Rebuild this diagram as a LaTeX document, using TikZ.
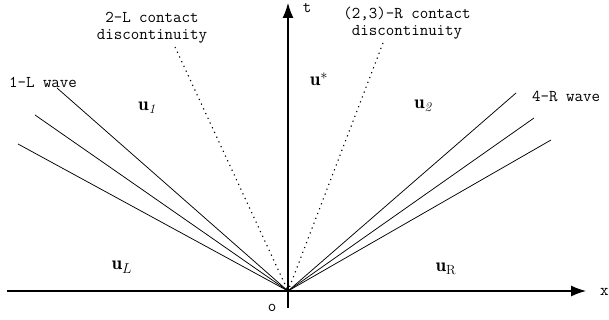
\documentclass[tikz,border=0pt]{standalone}
\usepackage{fontspec}
\usetikzlibrary{arrows.meta}
\begin{document}
\begin{tikzpicture}[x=1pt,y=-1pt,
  lbl/.style={font=\ttfamily\fontsize{16.5}{17}\selectfont, inner sep=0pt, align=center},
  mlbl/.style={font=\fontsize{19}{20}\selectfont, inner sep=0pt},
  axis/.style={line width=1.2pt, -{Latex[length=15pt,width=11pt]}},
  wave/.style={line width=0.75pt},
  contact/.style={line width=1.1pt, dash pattern=on 1.2pt off 4pt}]
\useasboundingbox (0,0) rectangle (609,320);
\coordinate (O) at (288,291);
\coordinate (xs) at (7,291);
\coordinate (xe) at (586,291);
\coordinate (ys) at (288,308);
\coordinate (ye) at (288,3);
\draw[axis] (xs) -- (xe);
\draw[axis] (ys) -- (ye);
\node[lbl] (t) at (307,8) {t};
\node[lbl, anchor=west] (x) at (600,292) {x};
\node[lbl] (o) at (272,308) {o};
% left waves
\coordinate (l1) at (57,88);
\coordinate (l2) at (35,115);
\coordinate (l3) at (18,144);
\draw[wave] (l1) -- (O);
\draw[wave] (l2) -- (O);
\draw[wave] (l3) -- (O);
% right waves
\coordinate (r1) at (516,93);
\coordinate (r2) at (534,118);
\coordinate (r3) at (551,140);
\draw[wave] (r1) -- (O);
\draw[wave] (r2) -- (O);
\draw[wave] (r3) -- (O);
% contacts
\coordinate (c1) at (175,47);
\coordinate (c2) at (383,43);
\draw[contact] (c1) -- (O);
\draw[contact] (c2) -- (O);
% labels
\node[lbl] (lc) at (152,28) {2-L contact\\discontinuity};
\node[lbl] (rc) at (407,23) {(2,3)-R contact\\discontinuity};
\node[lbl] (w1) at (43,82) {1-L wave};
\node[lbl] (w4) at (566,96) {4-R wave};
\node[mlbl] (u1) at (147,108) {$\mathbf{u}_{\mathit{1}}$};
\node[mlbl] (us) at (319,79) {$\mathbf{u}^{*}$};
\node[mlbl] (u2) at (423,106) {$\mathbf{u}_{\mathit{2}}$};
\node[mlbl] (uL) at (122,267) {$\mathbf{u}_{L}$};
\node[mlbl] (uR) at (446,269) {$\mathbf{u}_{\mathrm{R}}$};
\end{tikzpicture}
\end{document}
